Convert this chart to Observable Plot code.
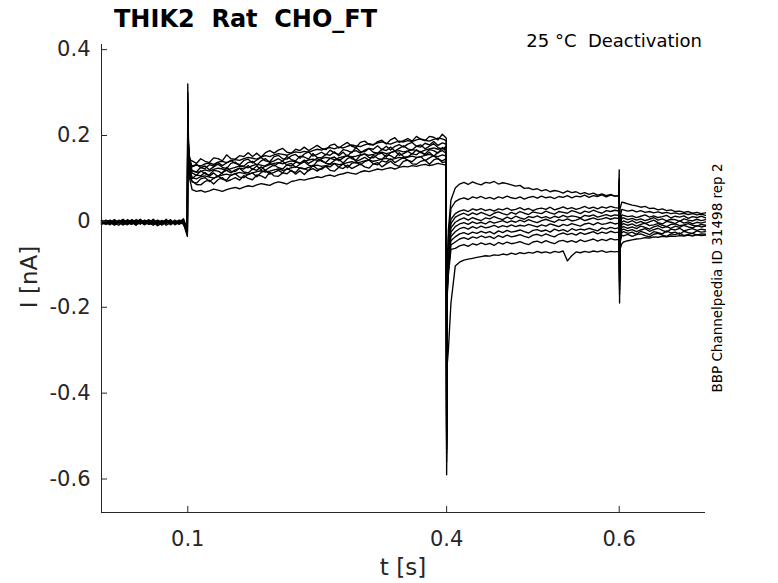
<!DOCTYPE html>
<html><head><meta charset="utf-8">
<script src="https://cdn.jsdelivr.net/npm/d3@7"></script>
<script src="https://cdn.jsdelivr.net/npm/@observablehq/plot@0.6"></script>
<style>body{margin:0;background:#fff;} svg{display:block}</style>
</head><body><div id="chart"></div>
<script>
// time samples (s)
const t = [
0,0.005,0.01,0.015,0.02,0.025,0.03,0.035,0.04,0.045,0.05,0.055,0.06,0.065,0.07,0.075,0.08,0.085,0.09,0.095,
0.0995,
0.1,0.1008,0.102,0.1035,
0.105,0.11,0.115,0.12,0.125,0.13,0.135,0.14,0.145,0.15,
0.155,0.16,0.165,0.17,0.175,0.18,0.185,0.19,0.195,0.2,
0.205,0.21,0.215,0.22,0.225,0.23,0.235,0.24,0.245,0.25,
0.255,0.26,0.265,0.27,0.275,0.28,0.285,0.29,0.295,0.3,
0.305,0.31,0.315,0.32,0.325,0.33,0.335,0.34,0.345,0.35,
0.355,0.36,0.365,0.37,0.375,0.38,0.385,0.39,0.395,
0.3995,
0.4,0.4008,0.402,0.405,
0.41,0.415,0.42,0.425,0.43,0.435,0.44,0.445,0.45,0.455,
0.46,0.465,0.47,0.475,0.48,0.485,0.49,0.495,0.5,0.505,
0.51,0.515,0.52,0.525,0.53,0.535,0.54,0.545,0.55,0.555,
0.56,0.565,0.57,0.575,0.58,0.585,0.59,0.595,
0.5995,
0.6,0.6004,0.601,0.603,
0.605,0.61,0.615,0.62,0.625,0.63,0.635,0.64,0.645,0.65,0.655,0.66,0.665,0.67,0.675,0.68,0.685,0.69,0.695,0.7
];

// current traces (pA)
const trace1 = [
-3,2,-6,1,-2,-8,4,-1,-5,3,-4,0,-7,2,-3,5,-6,1,-2,6,
-18,
320,185,150,142,
141,135,146,140,137,148,146,141,155,146,
145,153,151,160,151,159,150,160,165,159,
166,170,161,159,168,165,173,165,171,177,
170,167,177,180,171,178,184,175,172,184,
187,179,178,186,189,180,190,195,184,188,
193,187,198,191,188,198,196,190,203,
194,
-480,-120,-20,50,
78,87,91,86,92,88,85,91,89,93,
87,90,88,85,82,84,77,78,74,76,
71,74,69,72,70,66,71,67,69,64,
67,63,66,61,64,60,63,59,
60,
120,-110,30,45,
44,41,38,36,33,35,30,31,27,29,25,27,23,24,21,23,19,21,18,20];

const trace2 = [
2,-4,1,-7,3,-2,-5,4,-1,-6,2,-3,5,-4,-8,1,-2,-5,3,-1,
-24,
280,175,148,138,
127,131,129,134,136,133,138,140,137,141,
144,142,146,149,147,145,150,153,151,155,
158,156,154,159,162,160,163,161,165,168,
166,170,172,169,173,171,175,178,176,174,
178,181,179,183,185,182,180,184,187,185,
188,186,190,192,189,187,191,194,192,
188,
-520,-140,-40,30,
46,52,55,51,57,54,58,53,56,52,
57,54,59,55,53,57,52,56,58,54,
59,55,57,53,58,56,60,55,59,57,
61,56,60,58,62,57,61,59,
60,
95,-140,10,28,
27,24,26,22,25,21,23,20,22,19,21,18,20,17,19,16,18,15,17,14];

const trace3 = [
-6,-1,3,-4,-9,0,2,-5,-3,4,-7,-1,3,-6,0,-4,2,-8,-2,4,
-30,
250,170,140,132,
129,133,125,123,132,129,137,130,136,142,
135,132,142,145,136,143,149,141,139,151,
154,146,145,153,156,147,157,162,152,156,
161,155,166,159,156,167,165,160,172,163,
162,170,168,176,167,175,166,175,179,173,
180,184,175,173,182,178,186,177,183,
180,
-560,-160,-60,5,
18,24,27,23,29,26,30,25,28,24,
29,27,31,26,28,32,27,30,25,29,
31,28,33,27,30,34,29,32,28,31,
35,30,33,29,34,31,35,32,
31,
80,-120,-5,15,
14,11,13,9,12,15,10,13,9,11,14,8,12,10,13,7,11,9,12,8];

const trace4 = [
1,-5,-2,4,-3,-7,1,-2,3,-6,-1,4,-5,-2,2,-9,-3,1,-4,2,
-20,
300,180,145,130,
118,115,126,129,120,127,133,126,123,135,
138,130,129,137,140,131,141,146,137,141,
146,140,151,144,141,152,150,145,158,149,
148,156,154,162,153,161,152,162,165,159,
166,170,161,159,168,165,173,164,170,176,
169,166,175,178,169,175,181,172,169,
174,
-500,-130,-70,-5,
10,15,19,14,20,16,21,17,13,19,
22,18,15,21,17,23,19,16,22,20,
18,24,20,17,23,21,19,25,22,18,
24,21,26,22,19,25,23,26,
24,
70,-150,-15,8,
8,4,7,3,6,2,5,9,3,6,1,5,4,0,6,3,1,5,2,4];

const trace5 = [
-4,3,-1,-6,2,-3,-8,0,-2,5,-5,1,-3,-7,2,-1,-6,3,-4,-2,
-27,
260,165,135,125,
118,114,116,120,117,121,124,122,119,123,
126,129,127,125,130,133,131,128,132,135,
137,134,138,141,139,136,140,143,145,142,
146,149,147,144,148,151,153,150,152,155,
157,154,156,159,161,158,160,163,165,162,
164,167,165,162,166,169,171,168,170,
168,
-450,-110,-75,-15,
-2,4,8,3,9,5,2,8,6,11,
7,4,10,6,12,8,5,11,9,13,
8,11,7,12,9,14,10,13,11,8,
14,12,15,10,13,16,12,15,
14,
90,-100,-25,-2,
1,-3,2,-4,0,-5,-1,3,-3,-6,0,-2,-5,1,-4,-1,-6,-2,-4,-1];

const trace6 = [
3,-2,-5,1,-4,2,-3,-6,4,-1,-8,0,-4,3,-2,-5,1,-3,0,-7,
-22,
230,160,130,120,
113,107,118,111,108,119,117,112,126,117,
116,124,122,130,121,129,120,130,135,129,
136,140,131,129,138,135,143,135,141,147,
140,137,147,150,141,148,154,146,142,154,
157,149,148,156,159,150,160,164,154,158,
163,157,167,160,157,167,165,159,172,
163,
-540,-150,-85,-25,
-12,-6,-3,-7,-1,-5,-2,-6,0,-4,
-1,2,-3,1,-2,3,-1,4,0,-3,
2,5,1,-2,4,2,6,1,3,7,
2,5,8,4,6,9,5,8,
7,
60,-170,-30,-8,
-5,-9,-6,-11,-7,-4,-10,-8,-5,-9,-12,-7,-6,-10,-8,-5,-9,-11,-7,-9];

const trace7 = [
-7,-3,2,-5,-1,4,-6,-2,-9,1,-4,-6,0,-3,-5,2,-8,-1,-4,3,
-32,
270,170,125,115,
100,108,106,114,105,113,104,114,119,113,
120,124,115,113,122,119,127,119,126,132,
125,122,132,135,126,133,139,131,128,140,
143,135,134,142,145,136,146,151,140,144,
149,143,154,147,144,155,153,147,160,151,
150,158,155,163,154,161,152,161,165,
158,
-470,-140,-95,-35,
-24,-17,-14,-18,-12,-16,-11,-15,-13,-9,
-14,-10,-13,-8,-12,-9,-11,-7,-10,-13,
-8,-11,-6,-9,-12,-7,-10,-5,-8,-11,
-6,-4,-8,-3,-7,-5,-2,-6,
-4,
100,-130,-35,-14,
-12,-16,-13,-17,-11,-14,-18,-13,-10,-15,-12,-16,-11,-14,-9,-13,-15,-10,-13,-11];

const trace8 = [
0,-4,-8,2,-3,-1,-6,3,-2,-5,1,-7,-3,0,-6,-2,4,-5,-1,-3,
-26,
240,160,120,110,
102,99,104,106,103,101,105,108,110,107,
111,114,112,109,113,116,118,115,117,120,
122,119,121,125,127,124,122,126,129,131,
128,130,133,135,132,134,137,139,136,138,
141,143,140,142,145,147,144,146,149,147,
150,152,149,151,154,156,153,151,155,
152,
-530,-160,-105,-45,
-36,-29,-26,-30,-25,-28,-23,-27,-24,-29,
-22,-26,-21,-25,-23,-20,-24,-27,-21,-19,
-23,-20,-25,-18,-22,-19,-24,-17,-21,-18,
-20,-16,-19,-22,-15,-18,-14,-17,
-15,
75,-160,-40,-20,
-18,-22,-19,-24,-20,-17,-23,-19,-16,-21,-25,-18,-20,-16,-22,-19,-17,-21,-18,-20];

const trace9 = [
-5,1,-3,-9,-2,3,-4,-7,0,-3,-6,2,-4,-1,-8,-3,0,-5,2,-6,
-28,
220,150,115,104,
92,89,99,102,93,100,106,98,96,108,
111,103,102,110,113,104,114,119,110,114,
119,113,124,117,114,125,123,118,131,122,
121,129,127,135,126,134,125,135,138,132,
139,143,134,132,141,138,146,137,143,149,
142,139,148,151,141,148,153,145,141,
146,
-490,-150,-115,-55,
-48,-41,-38,-42,-36,-39,-34,-38,-35,-40,
-33,-37,-32,-36,-34,-31,-35,-38,-32,-30,
-34,-29,-33,-36,-30,-27,-31,-28,-32,-26,
-30,-27,-24,-29,-25,-28,-23,-26,
-25,
85,-120,-45,-26,
-24,-28,-25,-30,-23,-27,-31,-24,-26,-29,-22,-27,-25,-30,-23,-26,-28,-22,-25,-24];

const trace10 = [
2,-6,-1,-4,1,-8,-3,0,-5,-2,3,-4,-9,-1,-3,1,-6,-2,-7,0,
-25,
210,150,110,98,
94,86,85,93,96,87,97,102,93,97,
102,96,107,100,97,108,106,101,115,106,
105,113,111,119,110,118,109,119,123,117,
124,128,119,117,126,123,131,123,128,134,
127,124,134,137,127,134,140,132,128,140,
143,134,133,140,143,133,143,147,137,
139,
-510,-170,-125,-65,
-63,-57,-54,-58,-52,-55,-50,-54,-51,-56,
-49,-53,-48,-52,-50,-47,-51,-54,-48,-46,
-50,-45,-49,-52,-46,-44,-48,-45,-49,-43,
-47,-44,-41,-46,-42,-45,-40,-43,
-42,
65,-140,-50,-32,
-34,-30,-35,-31,-29,-33,-36,-30,-28,-32,-35,-29,-31,-27,-33,-30,-28,-32,-29,-30];

const trace11 = [
-3,-7,0,-4,-2,5,-5,-1,-8,-3,0,-5,-2,-10,-4,-1,-6,-3,2,-5,
-35,
200,140,100,88,
74,70,72,68,71,75,73,70,74,77,
79,76,80,83,81,85,88,86,84,89,
92,90,87,93,95,98,96,99,101,104,
102,106,108,105,109,111,114,112,110,115,
118,116,119,122,120,123,125,122,126,128,
127,130,128,131,133,130,132,135,133,
131,
-590,-330,-300,-190,
-104,-95,-90,-88,-86,-84,-82,-80,-81,-78,
-79,-76,-78,-74,-77,-73,-75,-72,-74,-70,
-73,-71,-74,-70,-72,-69,-92,-80,-71,-73,
-70,-72,-69,-71,-68,-72,-70,-71,
-70,
50,-190,-65,-52,
-48,-45,-43,-41,-40,-38,-39,-36,-37,-35,-36,-34,-35,-33,-34,-32,-34,-31,-33,-32];

const traces = [trace1,trace2,trace3,trace4,trace5,trace6,trace7,trace8,trace9,trace10,trace11];

const xTicks = [0.1, 0.4, 0.6];
const yTicks = [0.4, 0.2, 0, -0.2, -0.4, -0.6];
const xDomain = [0, 0.7];
const yDomain = [-0.678, 0.412];
const titleText = "THIK2  Rat  CHO_FT";
const conditionText = "25 °C  Deactivation";
const sideText = "BBP Channelpedia ID 31498 rep 2";
const xLabel = "t [s]";
const yLabel = "I [nA]";

traces.forEach((tr, k) => {
  if (tr.length !== t.length) throw new Error(`trace${k+1} has ${tr.length} values, expected ${t.length}`);
});

const rows = traces.flatMap((tr, k) => tr.map((v, i) => ({t: t[i], I: v / 1000, trace: k})));

const axisColor = "#262626";
const W = 778, H = 583;
const mL = 101, mR = 73, mT = 44, mB = 71;

const chart = Plot.plot({
  width: W, height: H,
  marginLeft: mL, marginRight: mR, marginTop: mT, marginBottom: mB,
  style: {fontFamily: "DejaVu Sans", background: "#fff", overflow: "visible"},
  x: {domain: xDomain},
  y: {domain: yDomain},
  marks: [
    Plot.line(rows, {x: "t", y: "I", z: "trace", stroke: "#000", strokeWidth: 1.35, strokeLinejoin: "round"}),
    Plot.ruleX([xDomain[0]], {stroke: axisColor, strokeWidth: 1}),
    Plot.ruleY([yDomain[0]], {stroke: axisColor, strokeWidth: 1}),
    Plot.axisX({ticks: xTicks, tickSize: -6, tickPadding: 25, fontSize: 21, color: axisColor, label: null, tickFormat: d => String(d)}),
    Plot.axisY({ticks: yTicks, tickSize: -6, tickPadding: 17, fontSize: 21, color: axisColor, label: null, tickFormat: d => String(d)})
  ]
});

const svg = d3.select(chart);
svg.append("text").attr("x", 114).attr("y", 27).attr("font-size", 24).attr("font-weight", "bold")
  .attr("text-anchor", "start").attr("fill", "#000").attr("font-family", "DejaVu Sans").text(titleText);
svg.append("text").attr("x", 702).attr("y", 47).attr("font-size", 18).attr("text-anchor", "end")
  .attr("fill", "#000").attr("font-family", "DejaVu Sans").text(conditionText);
svg.append("text").attr("transform", "translate(722,278) rotate(-90)").attr("font-size", 13.5)
  .attr("text-anchor", "middle").attr("fill", "#000").attr("font-family", "DejaVu Sans").text(sideText);
svg.append("text").attr("transform", "translate(37,277) rotate(-90)").attr("font-size", 23)
  .attr("text-anchor", "middle").attr("fill", axisColor).attr("font-family", "DejaVu Sans").text(yLabel);
svg.append("text").attr("x", 403).attr("y", 575).attr("font-size", 23)
  .attr("text-anchor", "middle").attr("fill", axisColor).attr("font-family", "DejaVu Sans").text(xLabel);

document.getElementById("chart").appendChild(chart);
</script>
</body></html>
